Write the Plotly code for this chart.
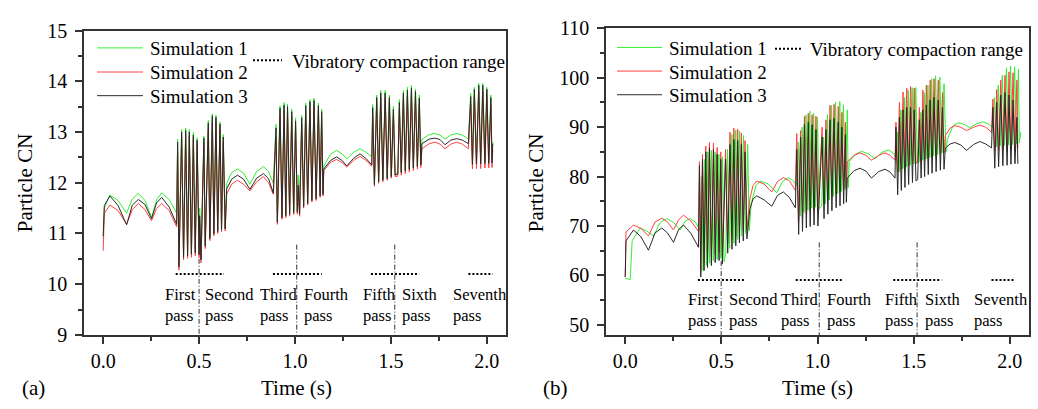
import plotly.graph_objects as go

# ---------------- Panel (a) data ----------------
a_time = [
    0.000, 0.006, 0.035, 0.078, 0.122, 0.152, 0.183, 0.218, 0.252, 0.278, 0.305, 0.344, 0.383,
    0.388, 0.395, 0.409, 0.419, 0.430, 0.440, 0.449, 0.460, 0.470, 0.480, 0.490, 0.500, 0.503, 0.510,
    0.525, 0.532, 0.548, 0.556, 0.569, 0.577, 0.588, 0.597, 0.609, 0.617, 0.626, 0.636,
    0.644, 0.670, 0.700, 0.732, 0.765, 0.800, 0.835, 0.862, 0.887,
    0.901, 0.908, 0.922, 0.932, 0.943, 0.952, 0.961, 0.972, 0.983, 0.993, 1.003, 1.012, 1.017, 1.024,
    1.035, 1.045, 1.056, 1.066, 1.078, 1.088, 1.099, 1.110, 1.122, 1.131, 1.139, 1.146,
    1.150, 1.185, 1.217, 1.245, 1.270, 1.305, 1.339, 1.370, 1.400,
    1.405, 1.414, 1.426, 1.436, 1.447, 1.458, 1.470, 1.481, 1.492, 1.502, 1.513, 1.522,
    1.536, 1.544, 1.554, 1.565, 1.575, 1.586, 1.596, 1.607, 1.617, 1.628, 1.638, 1.648, 1.656,
    1.662, 1.700, 1.730, 1.756, 1.782, 1.812, 1.843, 1.873, 1.904,
    1.916, 1.925, 1.935, 1.946, 1.958, 1.968, 1.979, 1.990, 2.000, 2.010, 2.021, 2.027, 2.031,
]
a_sim1 = [
    10.90, 11.50, 11.76, 11.65, 11.40, 11.68, 11.79, 11.65, 11.31, 11.66, 11.80, 11.67, 11.40,
    12.86, 10.40, 13.05, 10.58, 13.08, 10.62, 13.05, 10.65, 12.99, 10.68, 12.89, 10.62, 11.50, 10.55,
    12.92, 10.80, 13.23, 10.93, 13.36, 11.02, 13.33, 11.07, 13.20, 11.10, 12.95, 11.12,
    11.99, 12.20, 12.27, 12.19, 11.97, 12.22, 12.32, 12.22, 11.99,
    13.15, 11.25, 13.52, 11.35, 13.58, 11.38, 13.55, 11.41, 13.45, 11.44, 13.28, 11.45, 12.15, 11.42,
    13.33, 11.56, 13.57, 11.62, 13.64, 11.68, 13.67, 11.71, 13.57, 11.77, 13.45, 11.80,
    12.33, 12.56, 12.64, 12.57, 12.47, 12.60, 12.67, 12.60, 12.51,
    13.54, 11.98, 13.73, 12.04, 13.82, 12.07, 13.82, 12.10, 13.73, 12.14, 13.51, 12.17,
    12.20, 13.64, 12.22, 13.82, 12.25, 13.88, 12.28, 13.92, 12.31, 13.85, 12.34, 13.73, 12.36,
    12.86, 12.95, 12.97, 12.94, 12.86, 12.94, 12.97, 12.94, 12.86,
    13.76, 12.42, 13.88, 12.42, 13.96, 12.43, 13.96, 12.43, 13.88, 12.44, 13.73, 12.45, 12.80,
]
a_sim2 = [
    10.66, 11.40, 11.56, 11.45, 11.18, 11.47, 11.59, 11.47, 11.25, 11.49, 11.59, 11.45, 11.13,
    12.62, 10.28, 12.90, 10.48, 12.95, 10.51, 12.92, 10.53, 12.85, 10.56, 12.75, 10.52, 11.20, 10.42,
    12.75, 10.70, 13.05, 10.86, 13.20, 10.95, 13.18, 11.00, 13.05, 11.03, 12.80, 11.05,
    11.78, 11.97, 12.05, 11.97, 11.84, 12.02, 12.12, 12.00, 11.77,
    12.90, 11.18, 13.35, 11.28, 13.42, 11.31, 13.40, 11.34, 13.30, 11.37, 13.12, 11.38, 11.80, 11.34,
    13.15, 11.50, 13.40, 11.56, 13.48, 11.62, 13.52, 11.65, 13.42, 11.71, 13.28, 11.74,
    12.24, 12.40, 12.46, 12.40, 12.31, 12.44, 12.52, 12.44, 12.33,
    13.35, 11.93, 13.58, 11.99, 13.68, 12.02, 13.68, 12.05, 13.58, 12.09, 13.35, 12.12,
    12.13, 13.45, 12.15, 13.65, 12.18, 13.72, 12.21, 13.76, 12.24, 13.70, 12.27, 13.55, 12.30,
    12.67, 12.77, 12.80, 12.76, 12.67, 12.76, 12.80, 12.76, 12.67,
    13.55, 12.27, 13.70, 12.28, 13.80, 12.28, 13.80, 12.29, 13.72, 12.29, 13.55, 12.30, 12.65,
]
a_sim3 = [
    10.95, 11.55, 11.74, 11.55, 11.17, 11.56, 11.67, 11.57, 11.29, 11.60, 11.71, 11.52, 11.18,
    12.80, 10.34, 13.00, 10.53, 13.03, 10.56, 13.00, 10.59, 12.94, 10.62, 12.84, 10.58, 11.35, 10.48,
    12.88, 10.75, 13.18, 10.90, 13.32, 10.99, 13.29, 11.04, 13.16, 11.07, 12.90, 11.09,
    11.88, 12.07, 12.15, 12.07, 11.87, 12.09, 12.18, 12.08, 11.80,
    13.08, 11.22, 13.47, 11.31, 13.53, 11.35, 13.50, 11.38, 13.40, 11.41, 13.22, 11.42, 11.95, 11.38,
    13.28, 11.53, 13.52, 11.59, 13.60, 11.65, 13.62, 11.68, 13.52, 11.74, 13.40, 11.77,
    12.27, 12.44, 12.51, 12.44, 12.33, 12.48, 12.57, 12.48, 12.35,
    13.48, 11.96, 13.68, 12.02, 13.77, 12.05, 13.77, 12.08, 13.68, 12.12, 13.45, 12.15,
    12.17, 13.58, 12.20, 13.77, 12.23, 13.83, 12.26, 13.87, 12.29, 13.80, 12.32, 13.67, 12.35,
    12.77, 12.86, 12.88, 12.85, 12.75, 12.84, 12.87, 12.84, 12.77,
    13.70, 12.36, 13.84, 12.37, 13.92, 12.37, 13.92, 12.38, 13.84, 12.38, 13.68, 12.39, 12.77,
]

# ---------------- Panel (b) data ----------------
b_time = [
    0.000, 0.004, 0.043, 0.082, 0.121, 0.155, 0.190, 0.220, 0.251, 0.278, 0.303, 0.342, 0.381,
    0.386, 0.393, 0.402, 0.410, 0.419, 0.428, 0.438, 0.448, 0.459, 0.468, 0.478, 0.488, 0.497, 0.505,
    0.522, 0.533, 0.545, 0.555, 0.565, 0.575, 0.585, 0.594, 0.604, 0.614, 0.623, 0.633,
    0.648, 0.665, 0.684, 0.722, 0.762, 0.792, 0.822, 0.853, 0.885,
    0.892, 0.902, 0.912, 0.922, 0.932, 0.942, 0.952, 0.962, 0.972, 0.982, 0.992, 1.002,
    1.024, 1.034, 1.044, 1.054, 1.065, 1.075, 1.086, 1.097, 1.108, 1.117, 1.127, 1.136, 1.145, 1.150,
    1.155, 1.190, 1.221, 1.252, 1.281, 1.318, 1.351, 1.378, 1.403,
    1.408, 1.417, 1.426, 1.436, 1.445, 1.455, 1.464, 1.474, 1.484, 1.494, 1.503, 1.512,
    1.521, 1.530, 1.539, 1.548, 1.557, 1.566, 1.576, 1.586, 1.596, 1.606, 1.617, 1.628, 1.639, 1.650, 1.658,
    1.665, 1.690, 1.714, 1.745, 1.775, 1.812, 1.844, 1.875, 1.905,
    1.912, 1.922, 1.932, 1.942, 1.953, 1.964, 1.975, 1.986, 1.996, 2.006, 2.017, 2.027, 2.037, 2.042,
]
b_sim2 = [
    59.7, 68.8, 70.2, 69.5, 68.0, 70.8, 71.6, 70.8, 69.2, 71.3, 72.2, 71.0, 68.9,
    83.0, 61.0, 84.5, 62.5, 86.2, 63.2, 86.9, 63.8, 86.8, 64.3, 85.9, 64.7, 85.0, 64.0,
    85.5, 66.5, 89.0, 67.3, 89.8, 68.0, 89.6, 68.6, 88.8, 69.0, 87.3, 69.3,
    75.5, 78.2, 79.1, 78.5, 76.9, 79.0, 79.8, 79.2, 77.2,
    88.7, 71.0, 89.3, 71.8, 92.2, 72.4, 92.8, 72.8, 92.5, 73.1, 92.2, 73.0,
    90.0, 74.5, 91.5, 75.3, 94.4, 76.0, 94.6, 76.5, 94.2, 77.0, 93.0, 77.4, 91.0, 77.8,
    83.0, 84.3, 84.8, 84.3, 83.3, 84.3, 84.8, 84.3, 83.3,
    91.0, 80.8, 95.0, 81.4, 97.1, 81.8, 97.9, 82.2, 98.2, 82.5, 97.9, 82.7,
    82.9, 94.0, 83.0, 97.5, 83.3, 98.5, 83.6, 99.5, 83.9, 99.8, 84.2, 99.5, 84.5, 97.0, 84.8,
    88.3, 89.8, 90.3, 90.0, 89.3, 90.0, 90.4, 90.0, 89.0,
    95.7, 85.2, 97.6, 85.3, 99.5, 85.4, 100.5, 85.5, 101.2, 85.5, 101.0, 85.6, 99.5, 85.8,
]
b_sim3 = [
    59.7, 67.0, 69.2, 67.8, 65.1, 68.6, 69.6, 68.6, 66.7, 69.3, 70.2, 68.5, 65.7,
    82.3, 59.7, 83.5, 61.0, 85.0, 61.6, 85.8, 62.0, 85.5, 62.6, 84.5, 63.0, 83.5, 62.3,
    83.5, 64.5, 86.5, 65.3, 87.5, 66.0, 87.3, 66.6, 86.5, 67.0, 85.0, 67.4,
    73.4, 75.5, 76.1, 75.3, 74.0, 76.2, 76.9, 75.8, 73.7,
    85.5, 68.3, 88.0, 68.9, 90.5, 69.6, 91.0, 69.9, 90.5, 70.2, 89.5, 70.0,
    88.0, 71.5, 89.5, 72.4, 91.5, 73.1, 91.8, 73.7, 91.0, 74.1, 90.0, 74.5, 88.5, 74.8,
    79.7, 81.2, 81.7, 81.1, 79.7, 81.0, 81.5, 80.9, 79.7,
    90.0, 76.3, 92.0, 77.2, 93.5, 77.8, 94.0, 78.4, 94.0, 78.8, 93.5, 79.1,
    79.4, 91.5, 79.7, 93.5, 80.0, 94.5, 80.4, 95.5, 80.7, 96.0, 81.0, 95.5, 81.3, 94.0, 81.5,
    85.8, 86.6, 86.9, 86.4, 85.3, 86.5, 87.1, 86.6, 85.8,
    94.0, 81.7, 95.0, 82.0, 96.5, 82.2, 97.0, 82.3, 96.5, 82.5, 95.5, 82.6, 92.0, 82.6,
]
b_time_sim1 = [
    0.000, 0.026, 0.036, 0.078, 0.112, 0.147, 0.182, 0.216, 0.252, 0.286, 0.312, 0.338, 0.365, 0.392,
    0.398, 0.405, 0.414, 0.422, 0.430, 0.439, 0.448, 0.458, 0.468, 0.478, 0.487, 0.497, 0.506, 0.514,
    0.523, 0.532, 0.543, 0.555, 0.565, 0.575, 0.585, 0.595, 0.605, 0.615, 0.626, 0.637, 0.645,
    0.655, 0.680, 0.701, 0.745, 0.788, 0.818, 0.848, 0.870, 0.892,
    0.900, 0.910, 0.920, 0.930, 0.940, 0.950, 0.960, 0.970, 0.980, 0.990, 1.000, 1.008,
    1.022, 1.032, 1.042, 1.052, 1.062, 1.073, 1.083, 1.094, 1.105, 1.116, 1.125, 1.135, 1.144, 1.155, 1.160,
    1.165, 1.200, 1.230, 1.265, 1.300, 1.335, 1.369, 1.390, 1.410,
    1.416, 1.425, 1.434, 1.444, 1.453, 1.463, 1.472, 1.482, 1.492, 1.502, 1.511, 1.520,
    1.529, 1.538, 1.547, 1.556, 1.565, 1.574, 1.584, 1.594, 1.604, 1.614, 1.625, 1.636, 1.647, 1.658, 1.668,
    1.675, 1.705, 1.732, 1.762, 1.792, 1.828, 1.862, 1.890, 1.913,
    1.920, 1.930, 1.940, 1.950, 1.961, 1.972, 1.983, 1.994, 2.004, 2.014, 2.025, 2.035, 2.045, 2.050, 2.058,
]
b_sim1 = [
    59.4, 59.2, 67.0, 69.6, 69.0, 68.0, 70.7, 71.5, 70.7, 69.2, 71.0, 71.5, 70.8, 69.0,
    80.0, 61.0, 83.5, 62.0, 85.0, 62.5, 85.3, 63.0, 85.0, 63.3, 84.5, 63.5, 84.0, 62.8,
    64.5, 85.5, 65.5, 88.5, 66.5, 89.4, 67.3, 89.2, 68.0, 88.3, 68.5, 86.5, 69.0,
    74.5, 78.2, 79.1, 78.5, 76.7, 79.0, 79.8, 79.3, 78.2,
    87.0, 72.0, 90.0, 72.8, 92.5, 73.2, 93.2, 73.6, 92.8, 73.8, 92.0, 73.5,
    74.0, 88.0, 74.5, 92.5, 75.3, 94.4, 76.0, 95.0, 76.5, 95.2, 77.0, 94.5, 77.4, 93.5, 77.8,
    83.0, 84.6, 85.1, 84.6, 83.6, 84.9, 85.4, 84.9, 83.8,
    89.0, 81.0, 93.5, 81.6, 96.0, 82.0, 97.5, 82.3, 98.0, 82.6, 98.0, 82.8,
    83.0, 93.0, 83.3, 97.0, 83.6, 98.5, 83.9, 99.8, 84.2, 100.4, 84.5, 100.1, 84.8, 98.8, 85.0,
    87.5, 90.3, 90.9, 90.6, 89.9, 90.7, 91.1, 90.6, 89.9,
    96.0, 86.0, 98.5, 86.2, 100.5, 86.3, 102.0, 86.4, 102.4, 86.5, 102.2, 86.6, 101.7, 86.8, 89.0,
]

series_names = ["Simulation 1", "Simulation 2", "Simulation 3"]
series_colors = ["#33ee33", "#ff4040", "#2a2a2a"]

pass_names = ["First", "Second", "Third", "Fourth", "Fifth", "Sixth", "Seventh"]

# vibratory compaction ranges and pass boundaries
a_vib_start = [0.378, 0.885, 1.396, 1.904]
a_vib_end = [0.630, 1.139, 1.647, 2.031]
a_vib_level = 10.2
a_pass_bounds = [0.500, 1.009, 1.520]
a_bound_top = [10.50, 10.78, 10.78]

b_vib_start = [0.378, 0.887, 1.394, 1.905]
b_vib_end = [0.627, 1.134, 1.645, 2.030]
b_vib_level = 59.1
b_pass_bounds = [0.499, 1.009, 1.518]
b_bound_top = [62.9, 66.7, 66.7]

for t, v in [(a_time, a_sim1), (a_time, a_sim2), (a_time, a_sim3),
             (b_time_sim1, b_sim1), (b_time, b_sim2), (b_time, b_sim3)]:
    assert len(t) == len(v), (len(t), len(v))

FONT = "Liberation Serif"
W, H = 1038, 409

fig = go.Figure()

def add_series(t, v, color, xa, ya):
    fig.add_trace(go.Scatter(x=t, y=v, mode="lines", line=dict(color=color, width=1),
                             xaxis=xa, yaxis=ya, showlegend=False, hoverinfo="skip"))

add_series(a_time, a_sim1, series_colors[0], "x", "y")
add_series(a_time, a_sim2, series_colors[1], "x", "y")
add_series(a_time, a_sim3, series_colors[2], "x", "y")
add_series(b_time_sim1, b_sim1, series_colors[0], "x2", "y2")
add_series(b_time, b_sim2, series_colors[1], "x2", "y2")
add_series(b_time, b_sim3, series_colors[2], "x2", "y2")

def add_ranges(starts, ends, level, bounds, tops, bottom, xa, ya):
    xs, ys = [], []
    for s, e in zip(starts, ends):
        xs += [s, e, None]
        ys += [level, level, None]
    fig.add_trace(go.Scatter(x=xs, y=ys, mode="lines", line=dict(color="black", width=2, dash="2px,2px"),
                             xaxis=xa, yaxis=ya, showlegend=False, hoverinfo="skip"))
    xs, ys = [], []
    for b, tp in zip(bounds, tops):
        xs += [b, b, None]
        ys += [tp, bottom, None]
    fig.add_trace(go.Scatter(x=xs, y=ys, mode="lines",
                             line=dict(color="#333333", width=1, dash="5px,2px,1px,2px"),
                             xaxis=xa, yaxis=ya, showlegend=False, hoverinfo="skip"))

add_ranges(a_vib_start, a_vib_end, a_vib_level, a_pass_bounds, a_bound_top, 9.0, "x", "y")
add_ranges(b_vib_start, b_vib_end, b_vib_level, b_pass_bounds, b_bound_top, 47.9, "x2", "y2")

def px(x):
    return x / W

def py(y):
    return 1 - y / H

axis_common = dict(
    showline=True, linecolor="#333333", linewidth=1.5, mirror=True,
    ticks="outside", ticklen=7, tickwidth=1.5, tickcolor="#333333",
    showgrid=False, zeroline=False,
    tickfont=dict(family=FONT, size=20, color="black"),
)

fig.update_layout(
    width=W, height=H, autosize=False,
    margin=dict(l=0, r=0, t=0, b=0),
    paper_bgcolor="white", plot_bgcolor="white",
    showlegend=False,
    xaxis=dict(domain=[px(84), px(506)], range=[-0.1, 2.1], dtick=0.5, tick0=0, tickformat=".1f",
               minor=dict(dtick=0.25, tick0=0, ticks="outside", ticklen=4, tickcolor="#333333"),
               anchor="y", **axis_common),
    yaxis=dict(domain=[py(342.3), py(20.7)], range=[9, 15], dtick=1,
               minor=dict(dtick=0.5, ticks="outside", ticklen=4, tickcolor="#333333"),
               anchor="x", ticklabelstandoff=4, **axis_common),
    xaxis2=dict(domain=[px(606), px(1029)], range=[-0.1, 2.1], dtick=0.5, tick0=0, tickformat=".1f",
                minor=dict(dtick=0.25, tick0=0, ticks="outside", ticklen=4, tickcolor="#333333"),
                anchor="y2", **axis_common),
    yaxis2=dict(domain=[py(342.7), py(18.3)], range=[47.9, 110], dtick=10, tick0=50,
                minor=dict(dtick=5, tick0=50, ticks="outside", ticklen=4, tickcolor="#333333"),
                anchor="x2", ticklabelstandoff=4, **axis_common),
)

ann = []
def text(x, y, s, size, xanchor="center", yanchor="middle", xref="paper", yref="paper", angle=0, align="center"):
    ann.append(dict(x=x, y=y, text=s, xref=xref, yref=yref, showarrow=False, xanchor=xanchor,
                    yanchor=yanchor, textangle=angle, align=align,
                    font=dict(family=FONT, size=size, color="black")))

# axis titles and panel labels
text(px(296), py(398), "Time (s)", 21)
text(px(817), py(398), "Time (s)", 21)
text(px(25), py(182), "Particle CN", 21, angle=-90)
text(px(536), py(182), "Particle CN", 21, angle=-90)
text(px(33), py(398), "(a)", 21)
text(px(555), py(398), "(b)", 21)

# pass labels (data coordinates)
a_label_t = [0.311, 0.522, 0.807, 1.035, 1.344, 1.548, 1.812]
b_label_t = [0.315, 0.528, 0.802, 1.039, 1.339, 1.550, 1.804]
for name, t in zip(pass_names, a_label_t):
    text(t, 9.58, name + "<br>pass", 16.5, xanchor="left", xref="x", yref="y", align="left")
for name, t in zip(pass_names, b_label_t):
    text(t, 53.1, name + "<br>pass", 16.5, xanchor="left", xref="x2", yref="y2", align="left")

# manual legends
shapes = []
def legend_block(line_x0, line_x1, text_x, rows, vib_x0, vib_x1, vib_text_x, vib_y):
    for name, color, ry in zip(series_names, series_colors, rows):
        shapes.append(dict(type="line", xref="paper", yref="paper", x0=px(line_x0), x1=px(line_x1),
                           y0=py(ry), y1=py(ry), line=dict(color=color, width=1)))
        text(px(text_x), py(ry + 1), name, 19, xanchor="left")
    shapes.append(dict(type="line", xref="paper", yref="paper", x0=px(vib_x0), x1=px(vib_x1),
                       y0=py(vib_y), y1=py(vib_y), line=dict(color="black", width=2, dash="2px,2px")))
    text(px(vib_text_x), py(vib_y + 1), "Vibratory compaction range", 19, xanchor="left")

legend_block(97, 143, 148, [39, 64.5, 89.5], 253, 282, 290, 52)
legend_block(617, 662, 667, [38.5, 63.5, 88.5], 775, 803, 808, 40)

fig.update_layout(annotations=ann, shapes=shapes)
fig.write_html(
    "out.html",
    config={"responsive": False, "displayModeBar": False},
    post_script="document.body.style.margin='0';document.body.style.padding='0';document.body.style.overflow='hidden';",
)
